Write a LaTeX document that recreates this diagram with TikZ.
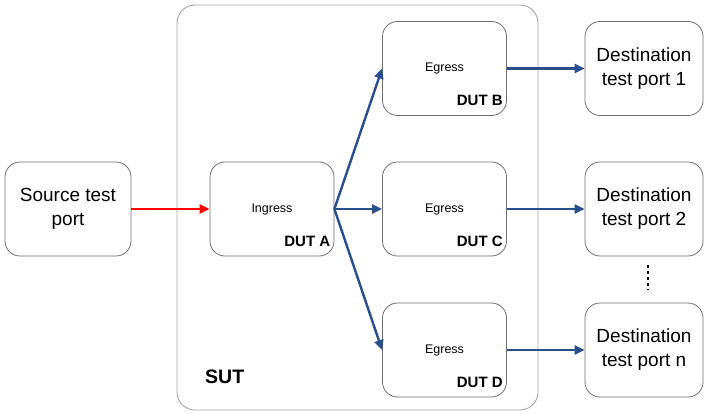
\documentclass[tikz,border=0pt]{standalone}
\usepackage{fontspec}
\setmainfont{Liberation Sans}
\usetikzlibrary{arrows.meta}
\definecolor{linkblue}{RGB}{40,78,140}
\definecolor{boxgray}{RGB}{110,110,110}
\definecolor{sutgray}{RGB}{165,165,165}
\tikzset{
  portbox/.style={draw=boxgray, line width=0.8pt, rounded corners=15pt,
    minimum width=124pt, minimum height=94pt, align=center,
    font=\fontsize{19}{24}\selectfont, inner sep=0pt},
  dutbox/.style={draw=boxgray, line width=0.8pt, rounded corners=15pt,
    minimum width=124pt, minimum height=94pt,
    font=\fontsize{12.5}{15}\selectfont, inner sep=0pt},
  dutlabel/.style={anchor=south east, font=\bfseries\fontsize{15}{18}\selectfont, inner sep=0pt},
  blueflow/.style={draw=linkblue, line width=2.4pt,
    -{Triangle[length=10pt,width=9pt]}},
  redflow/.style={draw=red, line width=2.4pt,
    -{Triangle[length=10pt,width=9pt]}}
}
\begin{document}
\begin{tikzpicture}[x=1pt,y=-1pt]
\useasboundingbox (0,0) rectangle (704,414);
% system under test enclosure
\draw[sutgray, line width=0.9pt, rounded corners=18pt] (177,5) rectangle (538,410);
\node[anchor=base west, font=\bfseries\fontsize{19.5}{22}\selectfont, inner sep=0pt] (sut) at (205,383) {SUT};

% traffic source
\node[portbox, minimum width=126pt] (src) at (68,209) {Source test\\port};

% devices under test
\node[dutbox] (duta) at (272,209) {Ingress};
\node[dutbox] (dutb) at (444.5,68.5) {Egress};
\node[dutbox] (dutc) at (444.5,209) {Egress};
\node[dutbox] (dutd) at (444.5,350) {Egress};
\node[dutlabel] (la) at ([xshift=-4pt,yshift=10pt]duta.south east) {DUT A};
\node[dutlabel] (lb) at ([xshift=-4pt,yshift=10pt]dutb.south east) {DUT B};
\node[dutlabel] (lc) at ([xshift=-4pt,yshift=10pt]dutc.south east) {DUT C};
\node[dutlabel] (ld) at ([xshift=-4pt,yshift=10pt]dutd.south east) {DUT D};

% destination ports
\node[portbox, minimum width=118pt] (dst1) at (644,68.5) {Destination\\test port 1};
\node[portbox, minimum width=118pt] (dst2) at (644,209) {Destination\\test port 2};
\node[portbox, minimum width=118pt] (dstn) at (644,350) {Destination\\test port n};
\coordinate (dotstop) at (648,265);
\coordinate (dotsbot) at (648,290);
\draw[line width=2.6pt, dash pattern=on 3pt off 3pt] (dotstop) -- (dotsbot);

% traffic flows
\draw[redflow] (src.east) -- (duta.west);
\draw[blueflow] (duta.east) -- (dutb.west);
\draw[blueflow] (duta.east) -- (dutc.west);
\draw[blueflow] (duta.east) -- (dutd.west);
\draw[blueflow] (dutb.east) -- (dst1.west);
\draw[blueflow] (dutc.east) -- (dst2.west);
\draw[blueflow] (dutd.east) -- (dstn.west);
\end{tikzpicture}
\end{document}
